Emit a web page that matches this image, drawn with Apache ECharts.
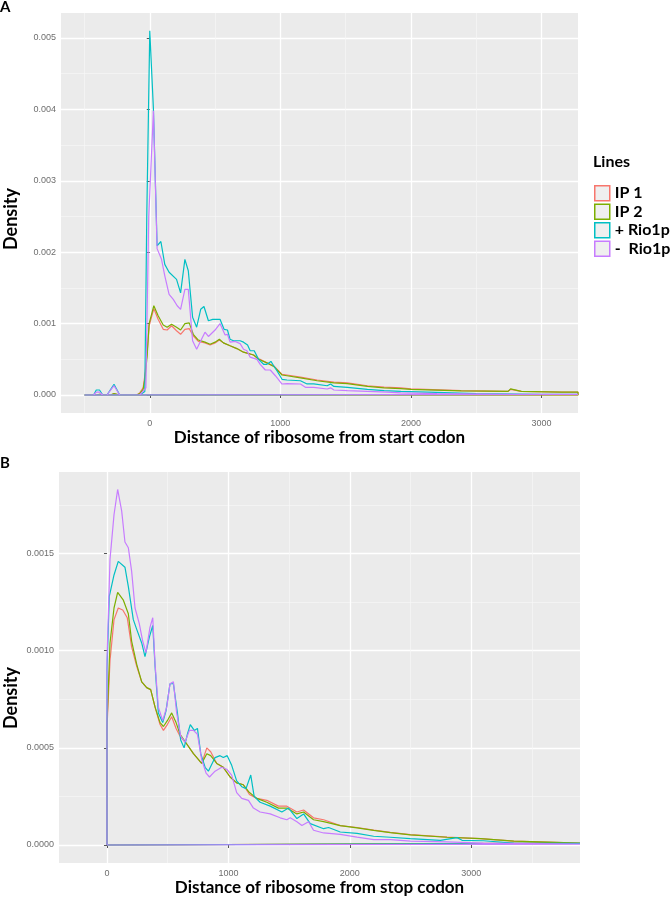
<!DOCTYPE html>
<html>
<head>
<meta charset="utf-8">
<title>Ribosome density</title>
<script src="https://cdn.jsdelivr.net/npm/echarts@6/dist/echarts.min.js"></script>
<style>
    html, body { margin: 0; padding: 0; background: #fff; }
    #chartBox { width: 672px; height: 898px; }
</style>
</head>
<body>
<div id="chartBox"></div>
<script>
    // legend names and ggplot hue colours
    const seriesNames = ['IP 1', 'IP 2', '+ Rio1p', '-  Rio1p'];
    const lineColors = ['#F8766D', '#7CAE00', '#00BFC4', '#C77CFF'];

    // panel A: distance from start codon, [distance, density]
    const startIp1 = [[-500, 0], [-410, 0], [-385, 0.00001], [-360, 0], [-300, 0], [-274, 0.00002], [-230, 0], [-100, 0],
        [-77, 0.00003], [-51, 0.0001], [-38, 0.00027], [-20, 0.0006], [-5, 0.00097], [31, 0.00121], [64, 0.00106],
        [103, 0.00092], [133, 0.00091], [167, 0.00097], [205, 0.0009], [236, 0.00085], [269, 0.00092], [302, 0.00093],
        [333, 0.00083], [372, 0.00075], [423, 0.00073], [462, 0.0007], [500, 0.00073], [533, 0.00077], [564, 0.00073],
        [615, 0.00069], [667, 0.00065], [718, 0.0006], [795, 0.00056], [833, 0.00051], [897, 0.00045], [949, 0.00041],
        [1013, 0.00029], [1051, 0.00028], [1154, 0.00025], [1282, 0.00021], [1410, 0.00018], [1513, 0.00017],
        [1667, 0.00013], [1795, 0.00011], [1923, 0.0001], [2000, 0.000085], [2385, 0.00006], [2744, 0.00005],
        [2764, 0.00008], [2846, 0.00005], [3154, 0.00004], [3280, 0.00004]];
    const startIp2 = [[-500, 0], [-410, 0], [-385, 0.00001], [-360, 0], [-300, 0], [-274, 0.00002], [-230, 0], [-100, 0],
        [-77, 0.00002], [-51, 0.00008], [-38, 0.00022], [-20, 0.00055], [-5, 0.001], [31, 0.00125], [64, 0.00111],
        [103, 0.00098], [133, 0.00095], [167, 0.00099], [205, 0.00095], [236, 0.00091], [269, 0.001], [302, 0.00101],
        [333, 0.00085], [372, 0.00077], [423, 0.00074], [462, 0.00071], [500, 0.00074], [533, 0.00078], [564, 0.00073],
        [615, 0.00069], [667, 0.00065], [718, 0.0006], [795, 0.00056], [833, 0.0005], [897, 0.00045], [949, 0.0004],
        [1013, 0.00028], [1051, 0.00027], [1154, 0.00024], [1282, 0.0002], [1410, 0.00017], [1513, 0.00016],
        [1667, 0.00012], [1795, 0.0001], [1923, 0.00009], [2000, 0.00008], [2385, 0.000058], [2744, 0.00005],
        [2764, 0.000085], [2846, 0.00005], [3154, 0.00004], [3280, 0.00004]];
    const startRioPlus = [[-500, 0], [-430, 0], [-410, 0.00007], [-385, 0.00007], [-360, 0], [-328, 0], [-274, 0.00015],
        [-230, 0], [-77, 0], [-38, 0.00005], [-23, 0.0025], [0, 0.0051], [28, 0.004], [56, 0.00209], [85, 0.00215],
        [115, 0.00183], [148, 0.00172], [205, 0.00162], [236, 0.00143], [269, 0.0019], [295, 0.00174], [328, 0.00109],
        [359, 0.00095], [390, 0.0012], [415, 0.00124], [449, 0.00104], [482, 0.00106], [538, 0.00106], [569, 0.00092],
        [595, 0.00091], [615, 0.00078], [641, 0.00076], [692, 0.00076], [718, 0.00074], [749, 0.0007], [769, 0.00062],
        [800, 0.00062], [833, 0.0005], [872, 0.00043], [897, 0.00043], [928, 0.00047], [949, 0.00041], [974, 0.00034],
        [1013, 0.00022], [1051, 0.00021], [1154, 0.0002], [1205, 0.000155], [1256, 0.000155], [1359, 0.00013],
        [1385, 0.000155], [1410, 0.00012], [1513, 0.000107], [1667, 0.00008], [1795, 0.00006], [1923, 0.00005],
        [2128, 0.00004], [2500, 0.00002], [3000, 0.00001], [3280, 0.00001]];
    const startRioMinus = [[-500, 0], [-430, 0], [-410, 0.00004], [-385, 0.00004], [-360, 0], [-328, 0], [-274, 0.00013],
        [-230, 0], [-77, 0], [-30, 0.0001], [-8, 0.0025], [28, 0.00398], [56, 0.00205], [90, 0.0019], [115, 0.00167],
        [148, 0.00141], [180, 0.00134], [210, 0.00125], [236, 0.0012], [269, 0.00148], [295, 0.00148], [328, 0.00076],
        [359, 0.00064], [385, 0.00074], [423, 0.00088], [449, 0.00082], [500, 0.00091], [538, 0.001], [577, 0.00084],
        [595, 0.00085], [615, 0.00074], [654, 0.00075], [692, 0.00072], [718, 0.00064], [744, 0.00062], [769, 0.00053],
        [821, 0.0005], [846, 0.00043], [885, 0.00035], [923, 0.00035], [962, 0.00027], [1013, 0.000154], [1051, 0.00016],
        [1154, 0.000154], [1192, 0.000107], [1256, 0.000107], [1359, 0.000084], [1385, 0.0001], [1410, 0.00007],
        [1513, 0.00006], [1667, 0.00005], [1820, 0.00004], [1923, 0.00003], [2200, 0.00002], [2800, 0.00001],
        [3280, 0.00001]];

    // panel B: distance from stop codon
    const stopIp1 = [[0, 0], [0, 0.0006], [25, 0.00095], [58, 0.00116], [93, 0.00122], [130, 0.00121], [167, 0.00117],
        [203, 0.00102], [245, 0.00092], [286, 0.00084], [327, 0.00081], [360, 0.0008], [396, 0.00071], [437, 0.00062],
        [465, 0.00059], [497, 0.00062], [533, 0.00066], [569, 0.0006], [602, 0.00056], [657, 0.00052], [712, 0.00047],
        [780, 0.00042], [822, 0.0005], [854, 0.00048], [904, 0.00042], [958, 0.0004], [1014, 0.00035], [1068, 0.00032],
        [1123, 0.00031], [1173, 0.00026], [1234, 0.00024], [1316, 0.00023], [1412, 0.0002], [1481, 0.0002],
        [1564, 0.00017], [1619, 0.00018], [1701, 0.00014], [1784, 0.00013], [1921, 0.0001], [2059, 0.00009],
        [2196, 0.000077], [2333, 0.000065], [2498, 0.000053], [2800, 0.000041], [3075, 0.000033], [3350, 0.00002],
        [3895, 0.00001]];
    const stopIp2 = [[0, 0], [0, 0.00062], [25, 0.00104], [58, 0.00122], [88, 0.0013], [135, 0.00126], [176, 0.00119],
        [203, 0.00105], [245, 0.00093], [286, 0.00084], [327, 0.00081], [360, 0.0008], [396, 0.00071], [437, 0.00063],
        [465, 0.00061], [497, 0.00064], [533, 0.00068], [569, 0.00063], [602, 0.00057], [657, 0.00052], [712, 0.00047],
        [780, 0.00042], [822, 0.00047], [854, 0.00046], [904, 0.00042], [958, 0.0004], [1014, 0.00035], [1068, 0.00032],
        [1123, 0.00031], [1173, 0.00027], [1234, 0.00024], [1316, 0.00022], [1412, 0.00019], [1481, 0.00019],
        [1564, 0.00016], [1619, 0.00017], [1701, 0.00013], [1784, 0.00012], [1921, 0.0001], [2059, 0.000088],
        [2196, 0.000075], [2333, 0.000064], [2498, 0.000052], [2800, 0.00004], [3075, 0.000033], [3350, 0.00002],
        [3895, 0.00001]];
    const stopRioPlus = [[0, 0], [0, 0.0009], [19, 0.00128], [58, 0.00139], [93, 0.00146], [148, 0.00143], [176, 0.00133],
        [217, 0.00116], [245, 0.00111], [286, 0.00104], [313, 0.00097], [349, 0.00107], [377, 0.00113], [396, 0.00092],
        [423, 0.00068], [459, 0.00063], [486, 0.00069], [519, 0.00083], [547, 0.00083], [580, 0.00068], [607, 0.00054],
        [635, 0.0005], [662, 0.00057], [686, 0.00062], [719, 0.00059], [745, 0.0006], [772, 0.00047], [808, 0.0004],
        [835, 0.00038], [890, 0.00045], [931, 0.00046], [958, 0.00045], [990, 0.00046], [1027, 0.00041], [1068, 0.00033],
        [1110, 0.0003], [1145, 0.00029], [1184, 0.00036], [1212, 0.00025], [1261, 0.00022], [1344, 0.0002],
        [1440, 0.00017], [1495, 0.00019], [1564, 0.000136], [1619, 0.00016], [1674, 0.00011], [1784, 0.000084],
        [1825, 0.00009], [1921, 0.000067], [2059, 0.00006], [2196, 0.000045], [2333, 0.00004], [2498, 0.000033],
        [2745, 0.000024], [2883, 0.000038], [2924, 0.000024], [3100, 0.000022], [3350, 0.00001], [3895, 0.000008]];
    const stopRioMinus = [[0, 0], [0, 0.00095], [25, 0.00147], [58, 0.0017], [88, 0.00183], [121, 0.00172], [148, 0.00156],
        [176, 0.00153], [203, 0.00141], [231, 0.00122], [266, 0.00114], [294, 0.00105], [321, 0.00099], [354, 0.00112],
        [377, 0.00117], [396, 0.00093], [423, 0.00071], [459, 0.00064], [492, 0.00071], [519, 0.00083], [547, 0.00084],
        [574, 0.00068], [607, 0.00056], [643, 0.00053], [679, 0.00059], [712, 0.00059], [745, 0.00057], [780, 0.00044],
        [816, 0.00037], [844, 0.00035], [890, 0.00038], [945, 0.0004], [986, 0.00039], [1027, 0.00036], [1068, 0.00027],
        [1110, 0.00024], [1165, 0.00023], [1206, 0.00019], [1261, 0.00017], [1344, 0.00016], [1426, 0.00014],
        [1481, 0.00013], [1509, 0.00014], [1564, 0.00012], [1605, 0.0001], [1660, 0.00012], [1701, 0.000076],
        [1784, 0.000062], [1921, 0.000055], [2059, 0.000041], [2196, 0.000028], [2333, 0.000028], [2500, 0.00002],
        [2800, 0.000016], [3100, 0.00001], [3895, 0.000005]];

    // axis limits (ggplot panel extents)
    const startXRange = [-680, 3280];
    const startYRange = [-0.000252, 0.00535];
    const stopXRange = [-395, 3895];
    const stopYRange = [-0.0000926, 0.00192];

    const boldFont = 'Lato';
    const tickFont = 'Liberation Sans';

    // density outline goes back along the baseline, like geom_density
    function closeOutline (points) {
        let first = points[0][0];
        let last = points[points.length - 1][0];
        return points.concat([[last, 0], [first, 0]]);
    }

    function makeXAxis (gridIndex, range, title) {
        return {
            type: 'value',
            gridIndex: gridIndex,
            min: range[0],
            max: range[1],
            name: title,
            nameLocation: 'middle',
            nameGap: 14,
            nameTextStyle: { fontFamily: boldFont, fontWeight: 'bold', fontSize: 17, color: '#000' },
            axisLine: { show: false },
            axisTick: { show: true, length: 3, lineStyle: { color: '#555', width: 1 } },
            axisLabel: {
                showMinLabel: false, showMaxLabel: false, margin: 6,
                fontFamily: tickFont, fontSize: 9, color: '#6e6e6e',
                formatter: function (v) { return String(v) }
            },
            splitLine: { show: true, showMinLine: false, showMaxLine: false, lineStyle: { color: '#fff', width: 1.3 } },
            minorTick: { show: false, splitNumber: 2 },
            minorSplitLine: { show: true, lineStyle: { color: '#f7f7f7', width: 0.7 } }
        }
    }

    function makeYAxis (gridIndex, range, digits) {
        return {
            type: 'value',
            gridIndex: gridIndex,
            min: range[0],
            max: range[1],
            axisLine: { show: false },
            axisTick: { show: true, length: 3, lineStyle: { color: '#555', width: 1 } },
            axisLabel: {
                showMinLabel: false, showMaxLabel: false, margin: 5,
                fontFamily: tickFont, fontSize: 9, color: '#6e6e6e',
                formatter: function (v) { return v.toFixed(digits) }
            },
            splitLine: { show: true, showMinLine: false, showMaxLine: false, lineStyle: { color: '#fff', width: 1.3 } },
            minorTick: { show: false, splitNumber: 2 },
            minorSplitLine: { show: true, lineStyle: { color: '#f7f7f7', width: 0.7 } }
        }
    }

    function makeSeries (panel, lists) {
        return lists.map(function (points, i) {
            return {
                name: seriesNames[i],
                type: 'line',
                xAxisIndex: panel,
                yAxisIndex: panel,
                data: closeOutline(points),
                symbol: 'none',
                color: lineColors[i],
                lineStyle: { width: 1.2, color: lineColors[i] },
                animation: false
            }
        })
    }

    let myChart = echarts.init(document.getElementById('chartBox'));
    myChart.setOption({
        backgroundColor: '#fff',
        title: [
            { text: 'A', left: 0, top: 0, textStyle: { fontFamily: boldFont, fontWeight: 'bold', fontSize: 15, color: '#000' }, padding: 0 },
            { text: 'B', left: 0, top: 456, textStyle: { fontFamily: boldFont, fontWeight: 'bold', fontSize: 15, color: '#000' }, padding: 0 },
            { text: 'Lines', left: 593, top: 154, textStyle: { fontFamily: boldFont, fontWeight: 'bold', fontSize: 16, color: '#000' }, padding: 0 }
        ],
        legend: {
            orient: 'vertical',
            left: 594,
            top: 185,
            padding: 0,
            itemWidth: 15,
            itemHeight: 15,
            itemGap: 2,
            icon: 'rect',
            selectedMode: false,
            data: seriesNames.map(function (name, i) {
                return { name: name, itemStyle: { color: '#efefef', borderColor: lineColors[i], borderWidth: 1.5 } }
            }),
            textStyle: { fontFamily: boldFont, fontWeight: 'bold', fontSize: 16, color: '#000', lineHeight: 15 }
        },
        grid: [
            { left: 61, right: 94, top: 13, height: 400, show: true, backgroundColor: '#EBEBEB', borderWidth: 0 },
            { left: 59, right: 92, top: 472, height: 391, show: true, backgroundColor: '#EBEBEB', borderWidth: 0 }
        ],
        xAxis: [
            makeXAxis(0, startXRange, 'Distance of ribosome from start codon'),
            makeXAxis(1, stopXRange, 'Distance of ribosome from stop codon')
        ],
        yAxis: [
            makeYAxis(0, startYRange, 3),
            makeYAxis(1, stopYRange, 4)
        ],
        graphic: [
            { type: 'text', x: 11, y: 219, rotation: Math.PI / 2,
              style: { text: 'Density', fontFamily: boldFont, fontWeight: 'bold', fontSize: 18, fill: '#000', align: 'center', verticalAlign: 'middle' } },
            { type: 'text', x: 11, y: 698, rotation: Math.PI / 2,
              style: { text: 'Density', fontFamily: boldFont, fontWeight: 'bold', fontSize: 18, fill: '#000', align: 'center', verticalAlign: 'middle' } }
        ],
        series: makeSeries(0, [startIp1, startIp2, startRioPlus, startRioMinus])
            .concat(makeSeries(1, [stopIp1, stopIp2, stopRioPlus, stopRioMinus]))
    })
</script>
</body>
</html>
